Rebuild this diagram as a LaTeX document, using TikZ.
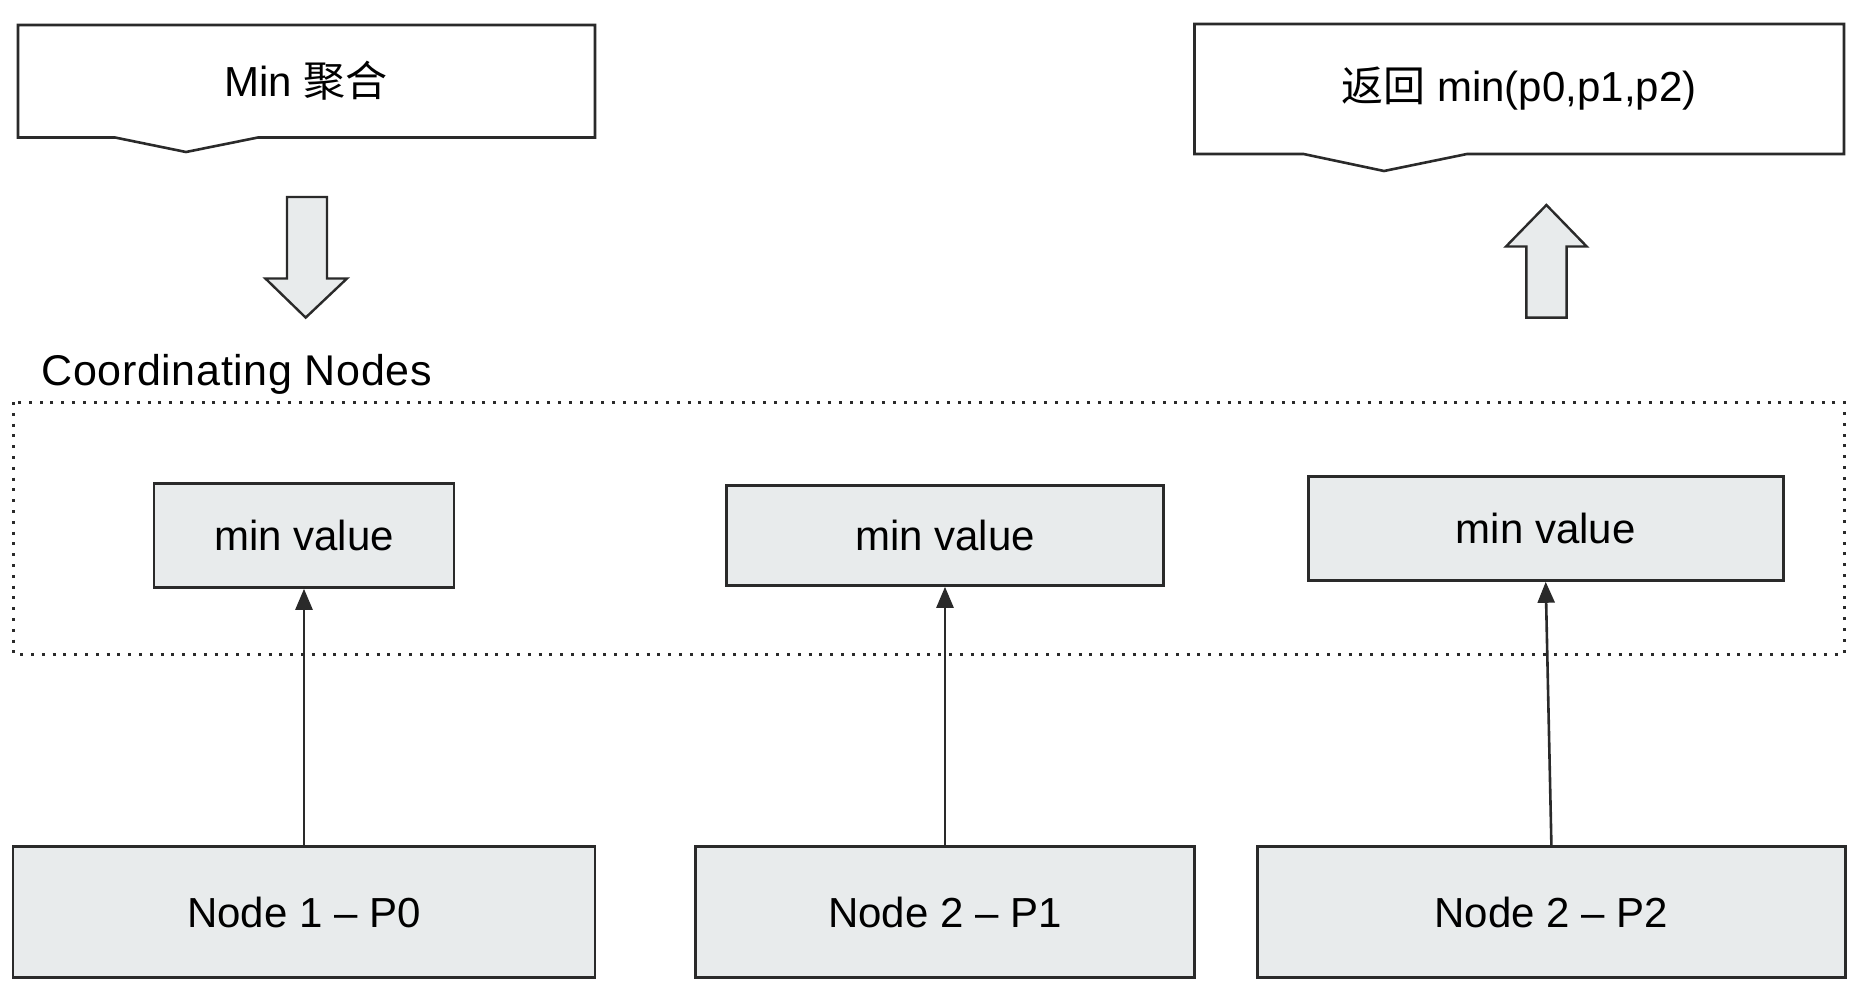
\documentclass[tikz,border=0pt]{standalone}
\usepackage{fontspec}
\setmainfont{Liberation Sans}
\newfontfamily\cjk{Noto Sans CJK SC}
\newfontfamily\widesans[LetterSpace=1.5]{Liberation Sans}
\usetikzlibrary{arrows.meta}
\definecolor{boxfill}{HTML}{E8EBEC}
\definecolor{edge}{HTML}{2A2A2A}
\begin{document}
\begin{tikzpicture}[x=1pt,y=-1pt,
  every node/.style={font=\fontsize{42}{48}\selectfont, text=black},
  greybox/.style={draw=edge, line width=2.6pt, fill=boxfill, inner sep=0pt},
  callout/.style={draw=edge, line width=2.6pt, fill=white, line join=miter},
  blockarrow/.style={draw=edge, line width=2.4pt, fill=boxfill, line join=miter},
  conn/.style={draw=edge, line width=2.6pt, -{Triangle[length=21pt,width=17pt]}},
  group/.style={draw=edge, line width=3pt, dash pattern=on 3pt off 7.8pt}
]
\useasboundingbox (0,0) rectangle (1858,1000);

% request callout
\draw[callout] (18,25) -- (595,25) -- (595,137.5) -- (258,137.5) -- (186,152)
  -- (115,137.5) -- (18,137.5) -- cycle;
\node (agg) at (306,81) {Min {\cjk 聚合}};

% result callout
\draw[callout] (1194.5,24) -- (1844,24) -- (1844,154) -- (1467,154) -- (1384,171)
  -- (1303.5,154) -- (1194.5,154) -- cycle;
\node (res) at (1519,89) {{\cjk 返回} min(p0,p1,p2)};

% block arrows
\draw[blockarrow] (287,197) -- (327,197) -- (327,278.5) -- (347,278.5) -- (305.7,317.6)
  -- (265.4,278.5) -- (287,278.5) -- cycle;
\draw[blockarrow] (1526.3,317.6) -- (1566.6,317.6) -- (1566.6,246.5) -- (1586.7,246.5)
  -- (1546.4,205) -- (1506,246.5) -- (1526.3,246.5) -- cycle;

% coordinating nodes group
\node[anchor=west, font=\widesans\fontsize{43}{48}\selectfont] (grouplabel) at (38,374)
  {Coordinating Nodes};
\draw[group] (13,402) rectangle (1844,654);

% partial results
\node[greybox, minimum width=300pt, minimum height=104pt] (mv1) at (304,535.5) {min value};
\node[greybox, minimum width=437pt, minimum height=100pt] (mv2) at (945,535.5) {min value};
\node[greybox, minimum width=475pt, minimum height=104pt] (mv3) at (1545.7,528.5) {min value};

% data nodes
\node[greybox, minimum width=582pt, minimum height=131pt] (n1) at (304,912) {Node 1 – P0};
\node[greybox, minimum width=499pt, minimum height=131pt] (n2) at (945,912) {Node 2 – P1};
\node[greybox, minimum width=588pt, minimum height=131pt] (n3) at (1551.4,912) {Node 2 – P2};

% connectors
\draw[conn] (n1) -- (mv1);
\draw[conn] (n2) -- (mv2);
\draw[conn] (n3.north) -- (mv3.south);
\end{tikzpicture}
\end{document}
